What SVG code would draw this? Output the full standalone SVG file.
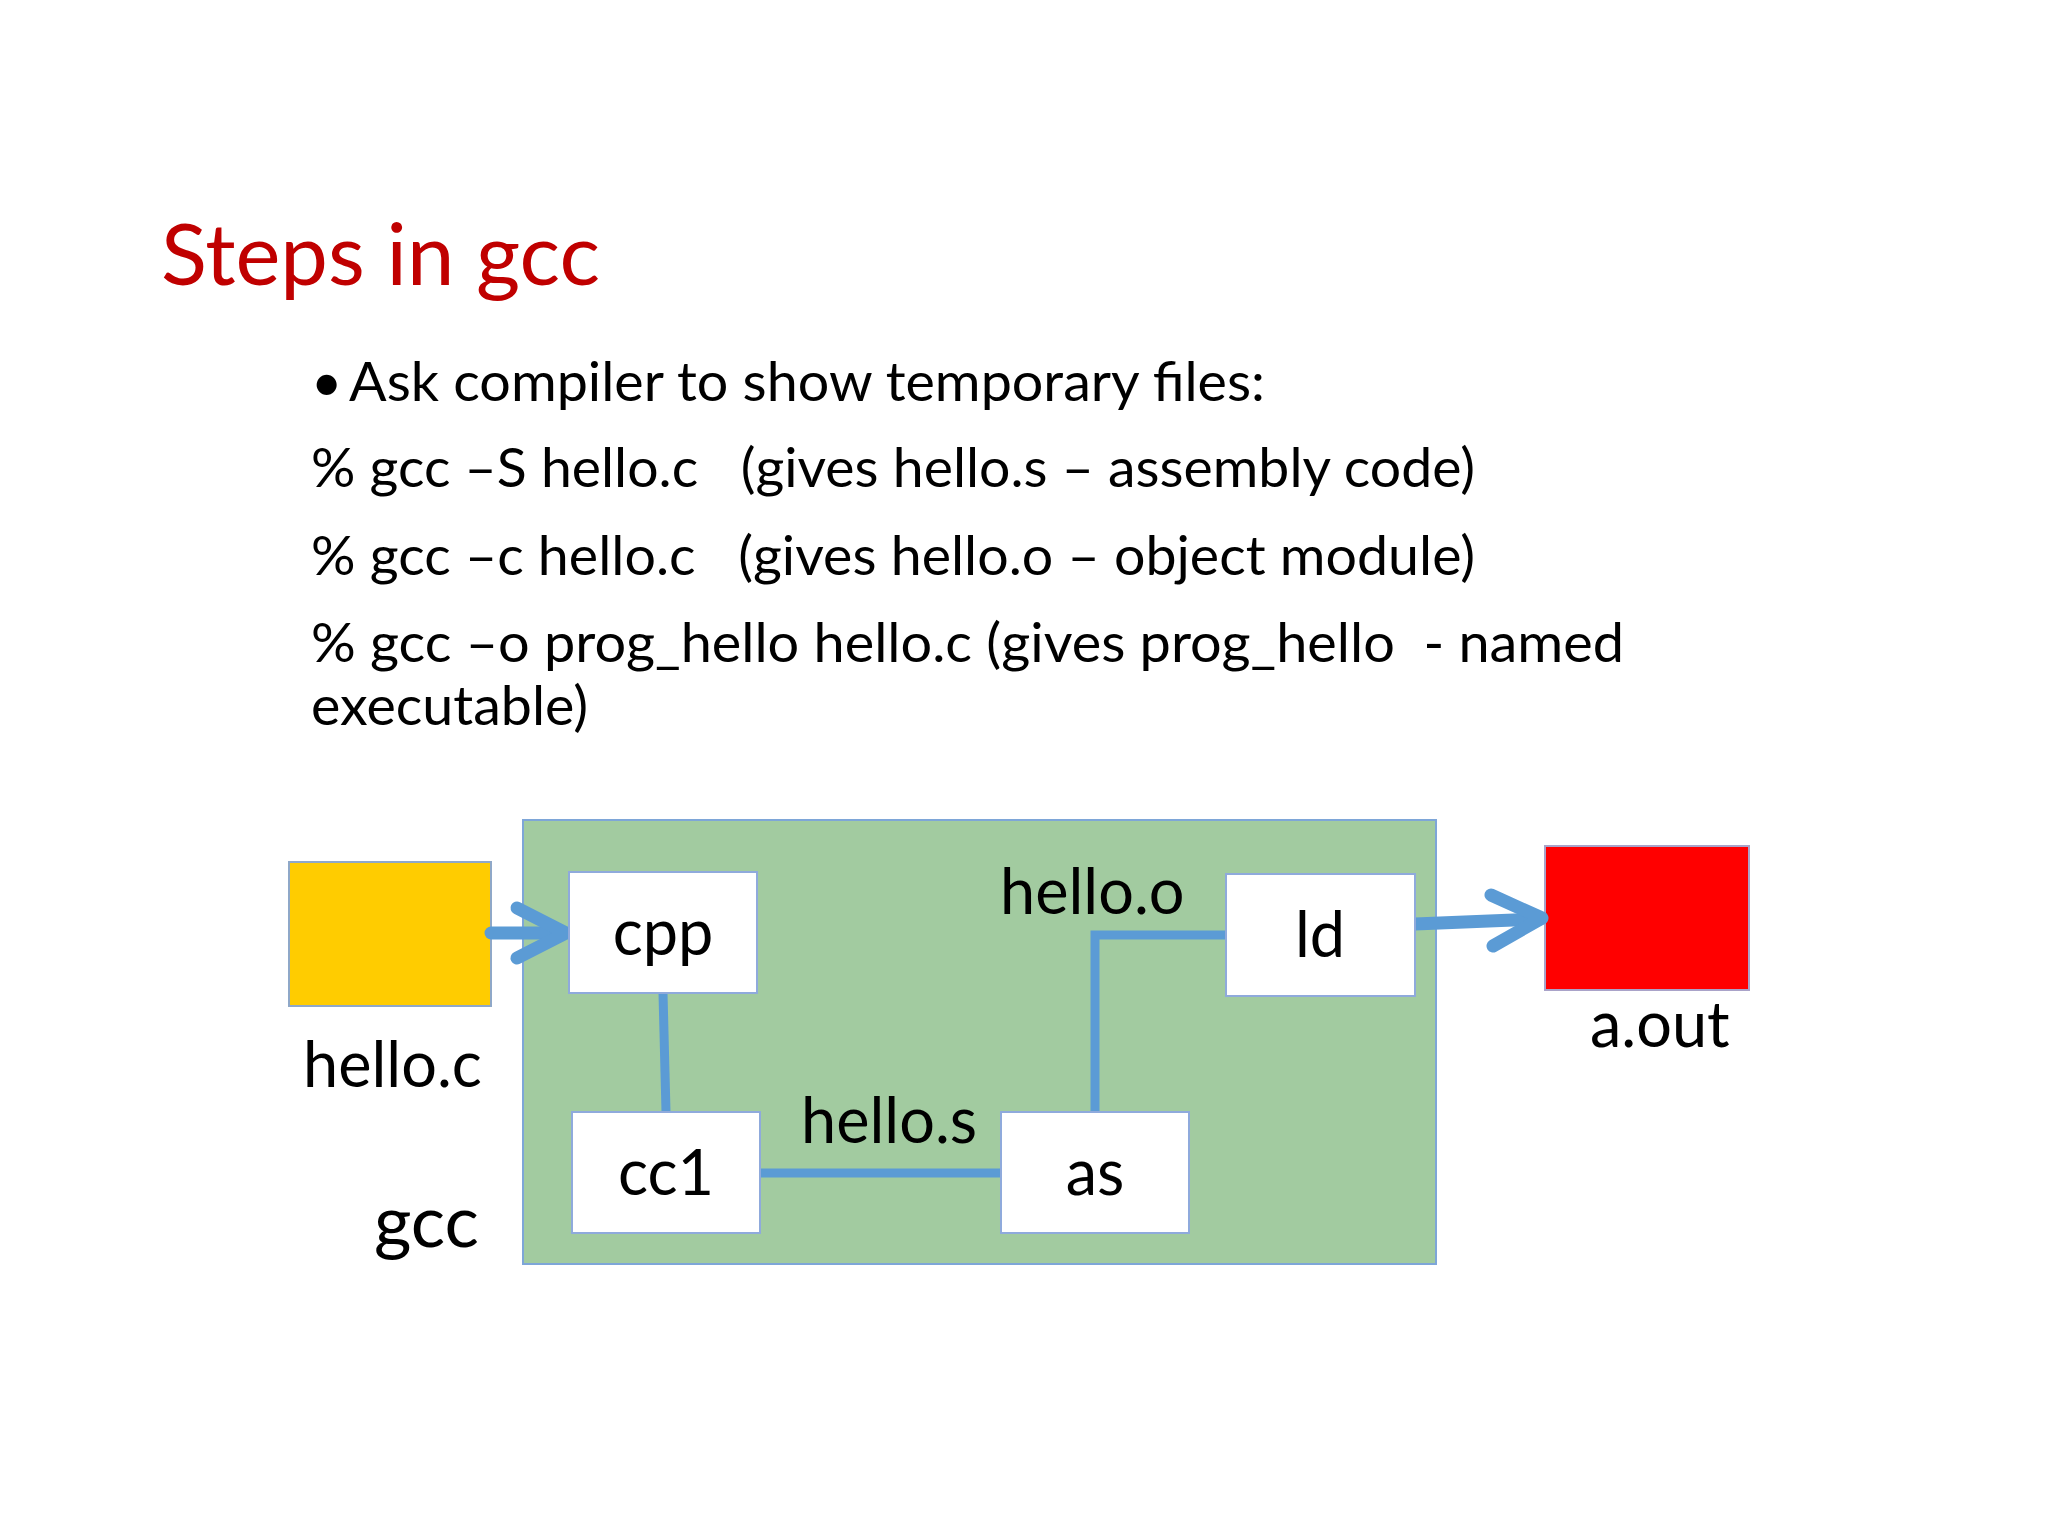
<svg xmlns="http://www.w3.org/2000/svg" width="2048" height="1536" viewBox="0 0 2048 1536">
<style>
.t{font-family:Lato,"Open Sans","Liberation Sans",sans-serif;fill:#000;white-space:pre}
.title{font-family:Lato,"Open Sans","Liberation Sans",sans-serif;fill:#C00000;font-size:85px}
.body{font-size:54px}
.lbl{font-size:63px}
.big{font-size:72px}
.node{fill:#fff;stroke:#8FAADC;stroke-width:2}
.conn{fill:none;stroke:#5B9BD5;stroke-width:9;stroke-linecap:butt}
.arr{fill:none;stroke:#5B9BD5;stroke-width:13;stroke-linecap:round;stroke-linejoin:round}
</style>
<rect x="0" y="0" width="2048" height="1536" fill="#fff"/>
<text class="title" x="161" y="285" textLength="439" lengthAdjust="spacingAndGlyphs">Steps in gcc</text>
<g class="t body">
<text class="t" x="311" y="401">•</text>
<text class="t" x="349" y="401" textLength="916" lengthAdjust="spacingAndGlyphs">Ask compiler to show temporary files:</text>
<text class="t" x="311" y="487" textLength="1164" lengthAdjust="spacingAndGlyphs" xml:space="preserve">% gcc –S hello.c   (gives hello.s – assembly code)</text>
<text class="t" x="311" y="575" textLength="1164" lengthAdjust="spacingAndGlyphs" xml:space="preserve">% gcc –c hello.c   (gives hello.o – object module)</text>
<text class="t" x="311" y="662" textLength="1313" lengthAdjust="spacingAndGlyphs" xml:space="preserve">% gcc –o prog_hello hello.c (gives prog_hello  - named</text>
<text class="t" x="311" y="725" textLength="277" lengthAdjust="spacingAndGlyphs">executable)</text>
</g>
<g id="gcc">
<rect x="523" y="820" width="913" height="444" fill="#A2CBA0" stroke="#7EA6D8" stroke-width="2"/>
<text class="t big" x="374" y="1247">gcc</text>
</g>
<g id="hello_c">
<rect x="289" y="862" width="202" height="144" fill="#FFCC00" stroke="#8FA8C8" stroke-width="2"/>
<text class="t lbl" x="303" y="1087">hello.c</text>
</g>
<g id="a_out">
<rect x="1545" y="846" width="204" height="144" fill="#FF0000" stroke="#A9A3C9" stroke-width="2"/>
<text class="t lbl" x="1590" y="1047">a.out</text>
</g>
<g id="connectors">
<line class="conn" x1="663" y1="993" x2="666" y2="1112"/>
<line class="conn" x1="760" y1="1173" x2="1001" y2="1173"/>
<polyline class="conn" points="1095,1112 1095,935 1226,935"/>
<line class="arr" x1="491" y1="933" x2="564" y2="933"/>
<polyline class="arr" points="517,908 566,933 517,958"/>
<line class="arr" x1="1415" y1="924" x2="1540" y2="919"/>
<polyline class="arr" points="1491,895 1542,918 1493,946"/>
<text class="t lbl" x="801" y="1143">hello.s</text>
<text class="t lbl" x="1000" y="914">hello.o</text>
</g>
<g id="cpp">
<rect class="node" x="569" y="872" width="188" height="121"/>
<text class="t lbl" x="663" y="955" text-anchor="middle">cpp</text>
</g>
<g id="cc1">
<rect class="node" x="572" y="1112" width="188" height="121"/>
<text class="t lbl" x="666" y="1195" text-anchor="middle">cc1</text>
</g>
<g id="as">
<rect class="node" x="1001" y="1112" width="188" height="121"/>
<text class="t lbl" x="1095" y="1195" text-anchor="middle">as</text>
</g>
<g id="ld">
<rect class="node" x="1226" y="874" width="189" height="122"/>
<text class="t lbl" x="1320" y="957" text-anchor="middle">ld</text>
</g>
</svg>
